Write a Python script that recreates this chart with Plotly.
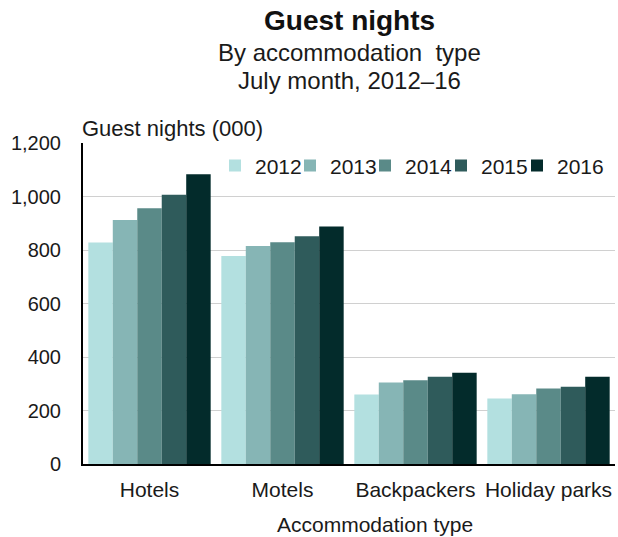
import plotly.graph_objects as go

categories = ["Hotels", "Motels", "Backpackers", "Holiday parks"]
years = ["2012", "2013", "2014", "2015", "2016"]
values = {
    "2012": [828, 778, 260, 245],
    "2013": [912, 815, 305, 261],
    "2014": [956, 829, 313, 282],
    "2015": [1007, 851, 326, 289],
    "2016": [1083, 888, 341, 326],
}
colors = ["#B3E0E0", "#86B5B5", "#5A8A88", "#2F5B5B", "#032B2B"]
y_ticks = [0, 200, 400, 600, 800, 1000, 1200]

FONT = "Liberation Sans, Arial, sans-serif"
TXT = "#1a1a1a"

# left edge (px) of each legend entry, matching the reference spacing
legend_left_px = [215, 290, 365, 441, 517]
PLOT_L, PLOT_W = 83, 532

fig = go.Figure()
legend_layouts = {}
for i, (yr, col) in enumerate(zip(years, colors)):
    key = "legend" if i == 0 else f"legend{i + 1}"
    fig.add_trace(go.Bar(
        name=yr, x=categories, y=values[yr],
        marker=dict(color=col, line=dict(width=0)),
        legend=key,
    ))
    legend_layouts[key] = dict(
        orientation="h",
        x=(legend_left_px[i] - PLOT_L) / PLOT_W, xanchor="left",
        y=0.993, yanchor="top",
        font=dict(family=FONT, size=21, color=TXT),
        bgcolor="rgba(0,0,0,0)", itemwidth=30,
    )

fig.update_layout(
    width=618, height=537,
    paper_bgcolor="white", plot_bgcolor="white",
    margin=dict(l=PLOT_L, r=3, t=143, b=73),
    barmode="group", bargap=0.08, bargroupgap=0,
    font=dict(family=FONT, size=20, color=TXT),
    showlegend=True,
    xaxis=dict(
        showline=True, linecolor="black", linewidth=2,
        ticks="", ticklabelstandoff=6, tickfont=dict(size=21, color=TXT),
    ),
    yaxis=dict(
        range=[0, 1200], tickvals=y_ticks, tickformat=",",
        showgrid=True, gridcolor="#D0D0D0", gridwidth=1,
        showline=True, linecolor="black", linewidth=2,
        ticks="", ticklabelstandoff=16, tickfont=dict(size=20, color=TXT),
        zeroline=False,
    ),
    annotations=[
        dict(text="<b>Guest nights</b>", xref="paper", yref="paper",
             x=0.5, y=1, xanchor="center", yanchor="middle",
             yshift=143 - 20, showarrow=False,
             font=dict(family=FONT, size=28, color="#111")),
        dict(text="By accommodation  type", xref="paper", yref="paper",
             x=0.5, y=1, xanchor="center", yanchor="middle",
             yshift=143 - 52, showarrow=False,
             font=dict(family=FONT, size=24, color=TXT)),
        dict(text="July month, 2012–16", xref="paper", yref="paper",
             x=0.5, y=1, xanchor="center", yanchor="middle",
             yshift=143 - 80, showarrow=False,
             font=dict(family=FONT, size=24, color=TXT)),
        dict(text="Guest nights (000)", xref="paper", yref="paper",
             x=0, y=1, xanchor="left", yanchor="middle",
             xshift=-3, yshift=143 - 128, showarrow=False,
             font=dict(family=FONT, size=22, color=TXT)),
        dict(text="Accommodation type", xref="paper", yref="paper",
             x=(375 - PLOT_L) / PLOT_W, y=0, xanchor="center", yanchor="middle",
             yshift=-(524 - 464), showarrow=False,
             font=dict(family=FONT, size=21, color=TXT)),
    ],
    **legend_layouts,
)

fig.write_html(
    "out.html",
    config={"displayModeBar": False},
    post_script="document.body.style.margin='0';document.body.style.padding='0';",
)
